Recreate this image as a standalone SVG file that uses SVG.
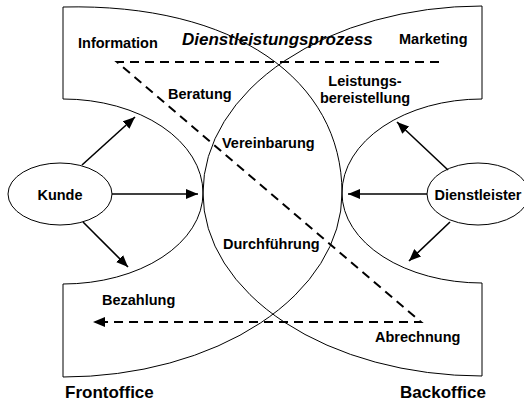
<svg xmlns="http://www.w3.org/2000/svg" width="524" height="403" viewBox="0 0 524 403">
<defs>
<style>
.shape{fill:none;stroke:#000;stroke-width:1}
.ell{fill:#fff;stroke:#000;stroke-width:1}
.t{font-family:"Liberation Sans",Arial,sans-serif;font-weight:bold;font-size:14.5px;fill:#000}
.big{font-size:17px}
.it{font-style:italic}
.arr{stroke:#000;stroke-width:1.6;fill:none;marker-end:url(#ah)}
.dash{stroke:#000;stroke-width:2;fill:none;stroke-dasharray:9,6}
</style>
<marker id="ah" markerUnits="userSpaceOnUse" markerWidth="12" markerHeight="10" refX="12" refY="5" orient="auto">
<path d="M0,0 L12,5 L0,10 Z" fill="#000"/>
</marker>
</defs>
<g id="frontoffice">
<path class="shape" d="M63,7 C235,3 342,80 342,193 A279,184 0 0 1 63,377 L63,284 A140,91 0 0 0 203,193 A140,94 0 0 0 63,99 Z"/>
<text class="t big" x="65" y="398">Frontoffice</text>
</g>
<g id="backoffice">
<path class="shape" d="M482,6 L482,99 A140,94 0 0 0 342,193 A140,90 0 0 0 482,283 L482,376 A279,183 0 0 1 203,193 A279,187 0 0 1 482,6 Z"/>
<text class="t big" x="400" y="398">Backoffice</text>
</g>
<g id="kunde">
<ellipse class="ell" cx="60" cy="194" rx="52" ry="31"/>
<text class="t" x="60" y="200" text-anchor="middle">Kunde</text>
</g>
<g id="dienstleister">
<ellipse class="ell" cx="478" cy="194" rx="51" ry="31"/>
<text class="t" x="478" y="200" text-anchor="middle">Dienstleister</text>
</g>
<g id="labels">
<text class="t big it" x="182" y="45">Dienstleistungsprozess</text>
<text class="t" x="78" y="48">Information</text>
<text class="t" x="399" y="44">Marketing</text>
<text class="t" x="168" y="99">Beratung</text>
<text class="t" x="365" y="86" text-anchor="middle">Leistungs-</text>
<text class="t" x="365" y="103" text-anchor="middle">bereistellung</text>
<text class="t" x="222" y="148">Vereinbarung</text>
<text class="t" x="223" y="249">Durchführung</text>
<text class="t" x="102" y="305">Bezahlung</text>
<text class="t" x="375" y="342">Abrechnung</text>
</g>
<g id="connectors">
<line class="arr" x1="82" y1="165" x2="135" y2="117"/>
<line class="arr" x1="112" y1="194" x2="198" y2="194"/>
<line class="arr" x1="83" y1="222" x2="128" y2="267"/>
<line class="arr" x1="427" y1="194" x2="348" y2="194"/>
<line class="arr" x1="448" y1="170" x2="397" y2="122"/>
<line class="arr" x1="450" y1="222" x2="409" y2="261"/>
<path class="dash" d="M439,62 L117,62 L421,322 L104,322"/>
<path d="M93,322 L105,317 L105,327 Z" fill="#000"/>
</g>
</svg>
